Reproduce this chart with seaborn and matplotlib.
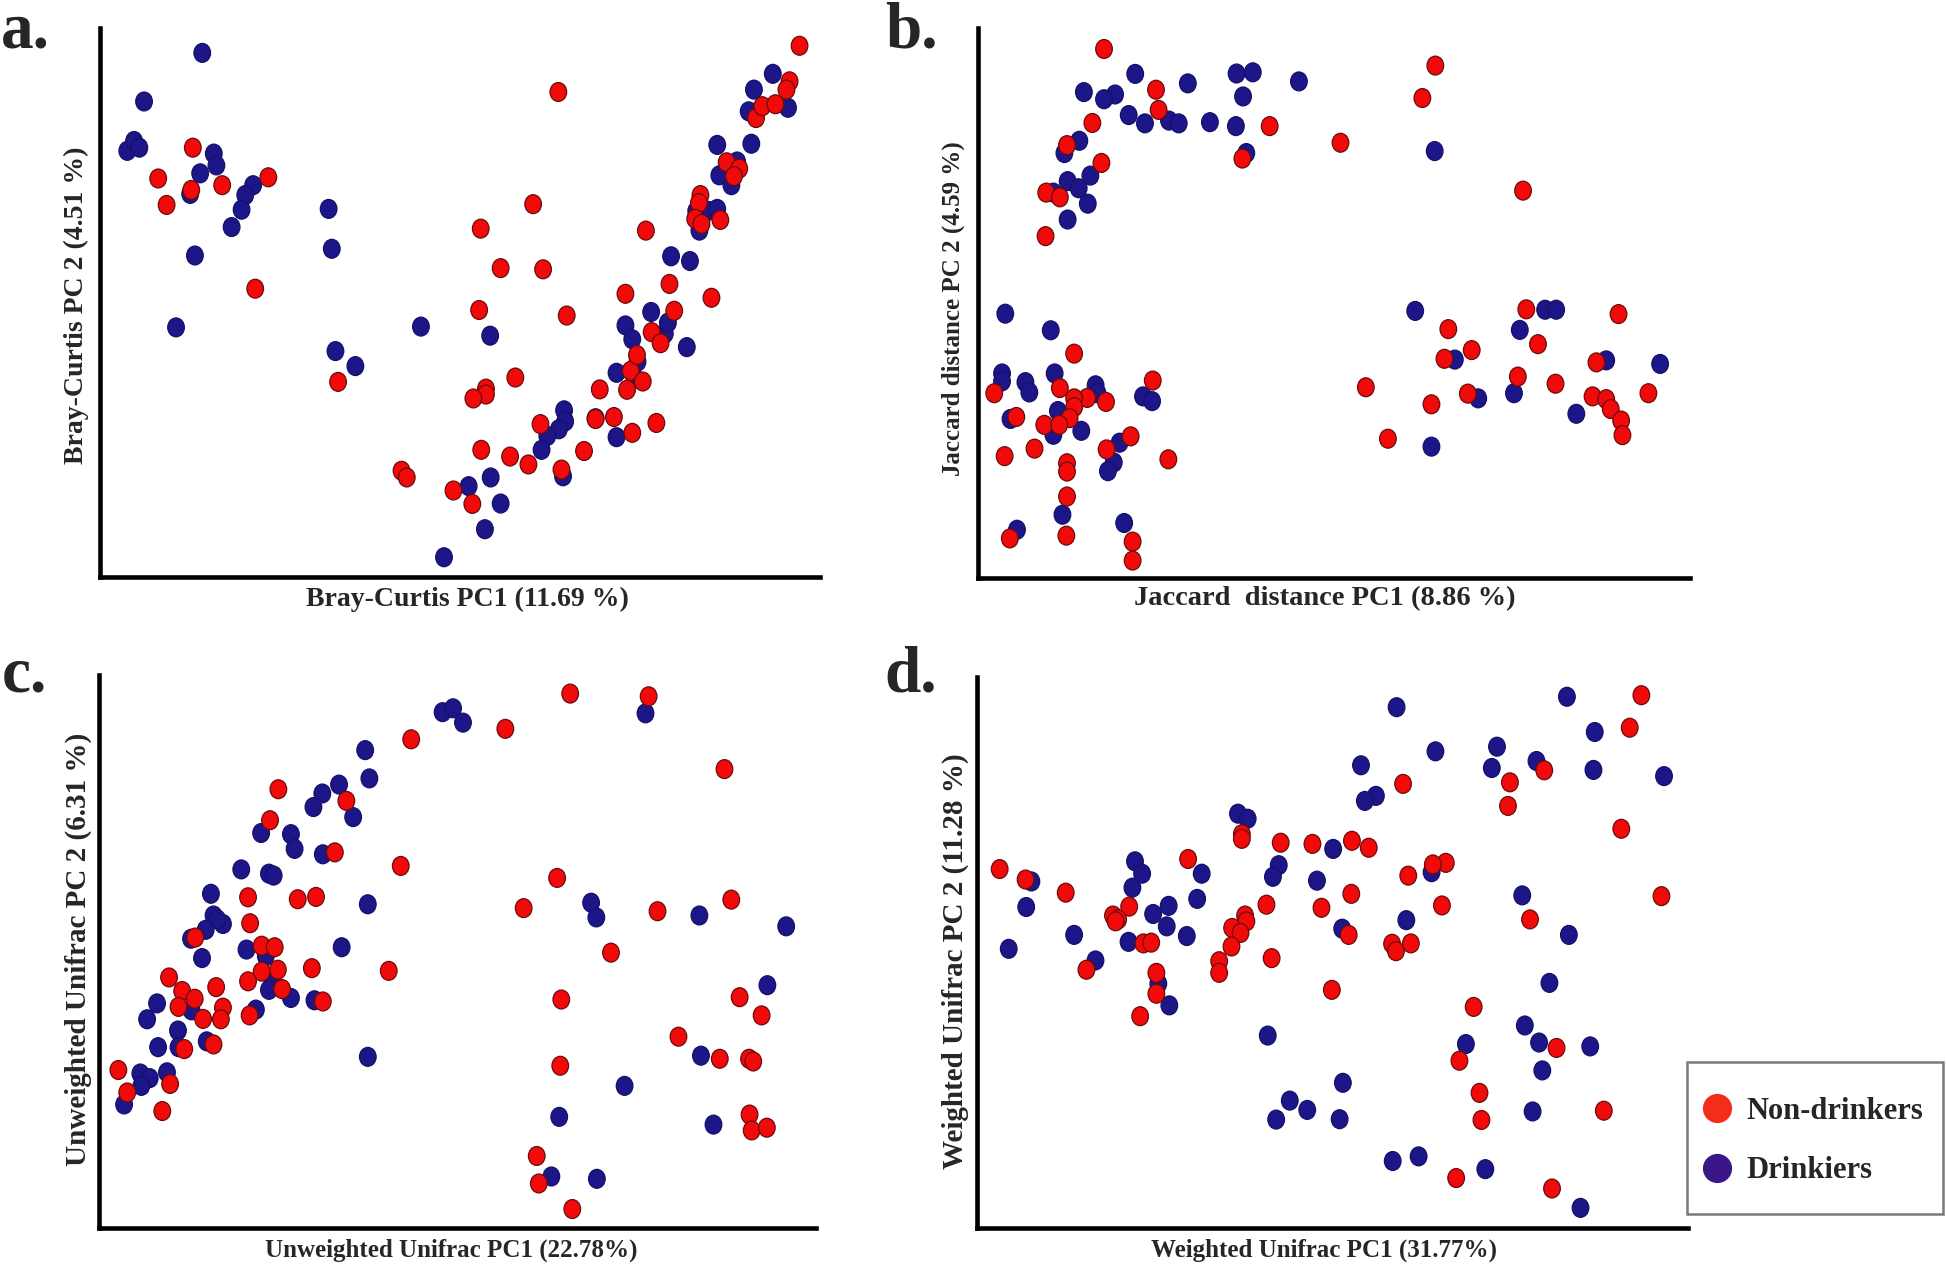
import matplotlib
matplotlib.use("Agg")
import matplotlib.pyplot as plt
from matplotlib.lines import Line2D
from matplotlib.patches import Rectangle
from matplotlib.path import Path
from matplotlib.transforms import Affine2D
import pandas as pd
import seaborn as sns

# PCoA scores (arbitrary units, PC2 grows downwards)
a_non = [(372, 375), (369, 482), (306, 453), (428, 470), (516, 450), (322, 520), (491, 732), (649, 968),
         (1069, 234), (1021, 518), (921, 580), (959, 680), (1040, 683), (918, 786), (1085, 800), (987, 957),
         (931, 985), (931, 1000), (907, 1010), (1035, 1075), (922, 1140), (977, 1157), (1012, 1177),
         (1118, 1143), (1075, 1190), (770, 1193), (780, 1210), (869, 1243), (905, 1277), (1140, 1062),
         (1175, 1057), (1210, 1097), (1256, 1072), (1148, 987), (1200, 988), (1207, 940), (1219, 900),
         (1230, 967), (1247, 842), (1264, 870), (1290, 788), (1197, 745), (1281, 720), (1236, 585),
         (1361, 755), (1340, 495), (1337, 515), (1378, 558), (1330, 555), (1342, 568), (1390, 412),
         (1414, 428), (1404, 447), (1446, 300), (1458, 270), (1483, 265), (1510, 207), (1504, 228), (1529, 117)]
a_dri = [(390, 135), (279, 258), (247, 383), (260, 358), (270, 375), (412, 390), (417, 420), (386, 440),
         (367, 492), (487, 470), (472, 495), (465, 532), (446, 576), (376, 648), (340, 830), (631, 530),
         (637, 631), (644, 890), (682, 928), (807, 828), (939, 851), (1080, 1040), (1082, 1068), (1070, 1088),
         (1048, 1105), (1037, 1140), (1078, 1207), (940, 1210), (898, 1232), (959, 1276), (929, 1341),
         (851, 1412), (1140, 1060), (1180, 1108), (1180, 945), (1220, 917), (1215, 960), (1197, 825),
         (1210, 860), (1246, 791), (1272, 846), (1278, 818), (1314, 880), (1284, 650), (1320, 662),
         (1338, 585), (1332, 535), (1355, 535), (1372, 530), (1376, 445), (1399, 470), (1410, 410),
         (1372, 368), (1437, 365), (1432, 283), (1507, 274), (1442, 228), (1478, 188)]

b_non = [(268, 125), (348, 228), (352, 279), (523, 320), (250, 312), (211, 368), (632, 362), (481, 402),
         (264, 413), (179, 488), (200, 500), (178, 598), (778, 167), (758, 249), (913, 483),
         (222, 895), (99, 995), (200, 982), (242, 1007), (222, 1008), (222, 1030), (271, 1017), (343, 963),
         (133, 1055), (215, 1058), (176, 1075), (199, 1075), (309, 1104), (161, 1135), (272, 1137),
         (115, 1154), (367, 1162), (211, 1172), (211, 1193), (211, 1256), (123, 1362), (210, 1355),
         (312, 1370), (312, 1418),
         (918, 783), (1060, 795), (798, 833), (936, 871), (834, 886), (792, 908), (1026, 917), (905, 953),
         (963, 971), (671, 980), (828, 996), (1020, 1003), (1041, 1010), (1048, 1035), (1106, 995),
         (772, 1023), (1064, 1064), (1066, 1101), (705, 1110)]
b_dri = [(316, 188), (472, 187), (497, 184), (568, 207), (397, 212), (237, 234), (285, 240), (268, 252),
         (482, 245), (306, 292), (331, 313), (368, 306), (383, 313), (431, 310), (471, 320), (230, 357),
         (207, 388), (487, 388), (247, 445), (212, 459), (229, 477), (190, 488), (243, 516), (212, 556),
         (777, 383),
         (116, 794), (186, 836), (111, 945), (111, 965), (192, 945), (147, 967), (153, 993), (255, 975),
         (258, 995), (328, 1003), (342, 1015), (197, 1040), (124, 1060), (190, 1100), (233, 1090),
         (292, 1120), (283, 1170), (274, 1192), (204, 1302), (299, 1323), (134, 1340),
         (747, 787), (947, 784), (964, 784), (908, 835), (808, 910), (1041, 912), (1124, 921), (844, 1008),
         (899, 995), (995, 1047), (772, 1130)]

c_non = [(1090, 87), (1240, 94), (966, 178), (786, 205), (1385, 282), (532, 334), (662, 364), (516, 414),
         (640, 497), (766, 532), (1065, 563), (474, 613), (569, 618), (604, 612), (1398, 619), (1001, 641),
         (1257, 649), (478, 680), (373, 717), (500, 738), (525, 742), (1168, 756), (596, 796), (743, 803),
         (531, 800), (500, 805), (323, 820), (474, 830), (539, 850), (413, 845), (348, 855), (1414, 871),
         (1073, 877), (617, 882), (372, 875), (341, 896), (426, 898), (422, 928), (388, 927), (477, 918),
         (1456, 918), (1297, 973), (352, 1005), (408, 993), (1376, 1030), (1432, 1030), (1440, 1037),
         (1071, 1048), (226, 1059), (325, 1095), (243, 1117), (310, 1165), (1433, 1174), (1437, 1215),
         (1466, 1208), (1026, 1281), (1030, 1352), (1094, 1418)]
c_dri = [(1234, 138), (846, 135), (866, 125), (885, 162), (698, 233), (706, 306), (648, 322), (616, 345),
         (599, 380), (675, 406), (499, 447), (556, 450), (563, 488), (617, 502), (461, 541), (514, 552),
         (523, 557), (403, 604), (1130, 627), (1140, 665), (1337, 660), (703, 631), (408, 660), (426, 682),
         (415, 670), (393, 697), (365, 720), (1503, 688), (471, 748), (508, 765), (386, 770), (653, 742),
         (521, 830), (514, 852), (1467, 840), (556, 873), (601, 879), (366, 905), (300, 887), (489, 903),
         (281, 928), (340, 957), (302, 1000), (341, 1000), (395, 985), (703, 1025), (1340, 1022),
         (268, 1068), (286, 1080), (270, 1100), (319, 1065), (237, 1148), (1194, 1100), (1069, 1180),
         (1364, 1200), (1054, 1334), (1141, 1340)]

d_non = [(1098, 91), (1080, 175), (948, 285), (895, 316), (730, 320), (892, 377), (1067, 436), (481, 450),
         (481, 462), (541, 472), (590, 475), (651, 467), (677, 485), (398, 514), (107, 540), (147, 567),
         (796, 524), (776, 528), (738, 557), (209, 601), (650, 604), (1129, 610), (307, 637), (519, 632),
         (604, 640), (790, 634), (282, 660), (290, 670), (286, 675), (486, 660), (488, 675), (466, 692),
         (479, 705), (646, 710), (926, 670), (329, 732), (341, 730), (465, 740), (713, 733), (719, 752),
         (742, 732), (241, 800), (527, 770), (446, 778), (446, 808), (349, 808), (349, 862), (620, 852),
         (324, 920), (839, 896), (967, 1002), (817, 1035), (848, 1118), (1040, 1164), (851, 1188),
         (812, 1338), (960, 1365)]
d_dri = [(983, 95), (720, 122), (1026, 186), (780, 236), (875, 224), (665, 272), (867, 279), (936, 261),
         (1024, 284), (1133, 300), (688, 351), (671, 364), (475, 397), (490, 410), (622, 488), (156, 572),
         (316, 520), (327, 552), (538, 530), (529, 560), (419, 552), (774, 548), (597, 570), (312, 588),
         (412, 617), (914, 608), (148, 638), (368, 635), (344, 656), (365, 688), (636, 694), (735, 672),
         (222, 710), (396, 713), (306, 728), (986, 710), (121, 746), (255, 776), (352, 836), (956, 834),
         (369, 892), (918, 944), (521, 970), (827, 992), (940, 988), (1019, 998), (945, 1060), (637, 1092),
         (555, 1138), (582, 1162), (930, 1166), (534, 1187), (632, 1186), (714, 1294), (754, 1282),
         (857, 1315), (1004, 1415)]

x_titles = ["Bray-Curtis PC1 (11.69 %)", "Jaccard  distance PC1 (8.86 %)",
            "Unweighted Unifrac PC1 (22.78%)", "Weighted Unifrac PC1 (31.77%)"]
y_titles = ["Bray-Curtis PC 2 (4.51 %)", "Jaccard distance PC 2 (4.59 %)",
            "Unweighted Unifrac PC 2 (6.31 %)", "Weighted Unifrac PC 2 (11.28 %)"]
letters = ["a.", "b.", "c.", "d."]
groups = ["Non-drinkers", "Drinkiers"]

fill = {"Non-drinkers": "#f20a0a", "Drinkiers": "#1c1688"}
edge = {"Non-drinkers": "#6a0c0c", "Drinkiers": "#15106a"}
legend_fill = {"Non-drinkers": "#f42c1a", "Drinkiers": "#3a1688"}


def to_frame(non, dri):
    rows = [(x, y, "Drinkiers") for x, y in dri] + [(x, y, "Non-drinkers") for x, y in non]
    return pd.DataFrame(rows, columns=["pc1", "pc2", "group"])


sns.set_style("white")
plt.rcParams["font.family"] = ["Liberation Serif", "DejaVu Serif"]

W, H = 1946, 1267
fig = plt.figure(figsize=(W / 100, H / 100), dpi=100)


def box(l, t, r, b):
    return [l / W, 1 - b / H, (r - l) / W, (b - t) / H]


# axes boxes in pixels, data limits, label spots (axes fraction), font sizes
panels = [
    dict(df=to_frame(a_non, a_dri), box=box(100, 28, 820, 577), xlim=(195, 1568), ylim=(1462, 72),
         xl=(0.511, -0.040), yl=(-0.033, 0.495), xfs=20, yfs=20, letter=(1, 47)),
    dict(df=to_frame(b_non, b_dri), box=box(978, 28, 1690, 578), xlim=(74, 1170), ylim=(1462, 72),
         xl=(0.487, -0.038), yl=(-0.035, 0.489), xfs=20.5, yfs=18, letter=(885, 47)),
    dict(df=to_frame(c_non, c_dri), box=box(99, 675, 816, 1228), xlim=(189, 1560), ylim=(1467, 39),
         xl=(0.491, -0.040), yl=(-0.029, 0.503), xfs=18, yfs=21, letter=(2, 691)),
    dict(df=to_frame(d_non, d_dri), box=box(977, 677, 1688, 1228), xlim=(72, 1170), ylim=(1467, 44),
         xl=(0.488, -0.040), yl=(-0.031, 0.485), xfs=18, yfs=21, letter=(884, 691)),
]

marker = Path.unit_circle().transformed(Affine2D().scale(0.88, 1.0))

for i, p in enumerate(panels):
    ax = fig.add_axes(p["box"])
    df = p["df"]
    sns.scatterplot(data=df, x="pc1", y="pc2", hue="group", palette=fill, hue_order=groups,
                    marker=marker, s=185, linewidth=0.9, edgecolor="k", legend=False,
                    clip_on=False, ax=ax)
    ax.collections[0].set_edgecolor([edge[g] for g in df["group"]])
    ax.set_xlim(*p["xlim"])
    ax.set_ylim(*p["ylim"])
    ax.set_xticks([])
    ax.set_yticks([])
    sns.despine(ax=ax)
    for side in ["left", "bottom"]:
        ax.spines[side].set_linewidth(3.3)
        ax.spines[side].set_color("black")
        ax.spines[side].set_capstyle("projecting")
    ax.set_xlabel(x_titles[i], fontsize=p["xfs"], fontweight="bold", va="center")
    ax.set_ylabel(y_titles[i], fontsize=p["yfs"], fontweight="bold", va="center")
    ax.xaxis.set_label_coords(*p["xl"])
    ax.yaxis.set_label_coords(*p["yl"])
    lx, ly = p["letter"]
    fig.text(lx / W, 1 - ly / H, letters[i], fontsize=47, fontweight="bold",
             ha="left", va="baseline")

# legend box
fig.add_artist(Rectangle((1687 / W, 1 - 1214 / H), 256 / W, 152 / H, transform=fig.transFigure,
                         facecolor="white", edgecolor="#7a7a7a", linewidth=1.8))
handles = [Line2D([], [], linestyle="none", marker="o", markersize=20,
                  markerfacecolor=legend_fill[g], markeredgecolor=legend_fill[g]) for g in groups]
fig.legend(handles, groups, loc="center left", bbox_to_anchor=(1702 / W, 1 - 1141 / H),
           frameon=False, prop={"family": "Liberation Serif", "weight": "bold", "size": 22},
           handlelength=1.0, handletextpad=0.45, labelspacing=1.0, borderpad=0, borderaxespad=0)

fig.savefig("out.png", dpi=100, facecolor="white")
